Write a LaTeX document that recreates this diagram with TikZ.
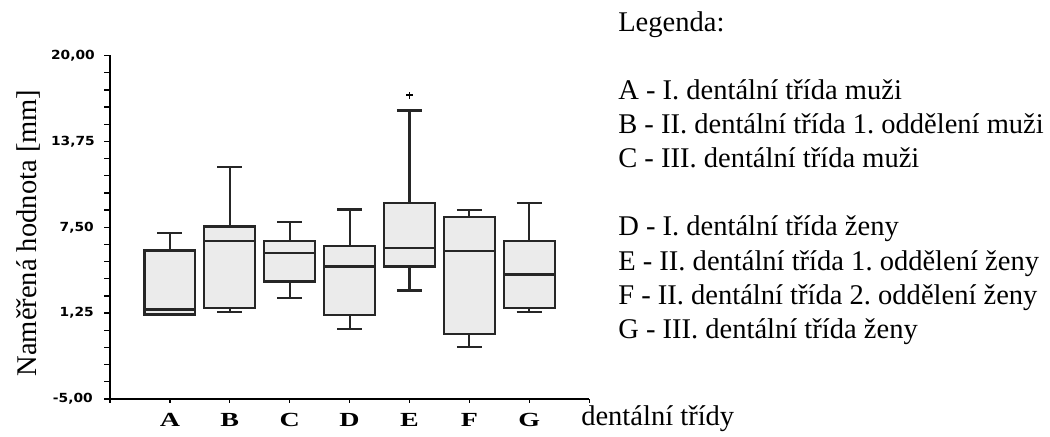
\documentclass[tikz,border=0pt]{standalone}
\usepackage{fontspec}
\usepackage{graphicx}
\setmainfont{Liberation Serif}
\newfontfamily\tickfont{DejaVu Sans}
\usepackage{tikz}
\frenchspacing

\tikzset{
  box/.style={draw=black!85, fill=black!8, line width=1.6pt},
  whisker/.style={draw=black!85, line width=1.6pt},
  axisline/.style={draw=black, line width=1.5pt},
  tickline/.style={draw=black, line width=1pt},
  ticklabel/.style={font=\tickfont\bfseries\fontsize{9.4}{10}\selectfont, anchor=east, inner sep=0pt},
  catlabel/.style={font=\bfseries\fontsize{15}{16}\selectfont, inner sep=0pt},
  legendtext/.style={font=\fontsize{21.4}{25}\selectfont, anchor=base west, inner sep=0pt},
}

\begin{document}
\begin{tikzpicture}[x=0.75pt, y=0.75pt]
\useasboundingbox (0,0) rectangle (1050,436);

% plot in data units
\begin{scope}[shift={(110,105.7)}, x=44.925pt, y=10.305pt]
\coordinate (origin) at (0,-5);
\coordinate (ytop) at (0,20);
\coordinate (xend) at (8,-5);
\draw [axisline] (ytop) -- (origin) -- (xend);
\foreach \v in {-5,-3.75,...,20}
  \draw [tickline] (0,\v) -- ++(-4.5pt,0);
\foreach \i in {0,...,8}
  \draw [tickline] (\i,-5) -- ++(0,-3pt);

\node [ticklabel] (ylab20) at ([xshift=-11.25pt]0,20) {\scalebox{1.1}[1]{20,00}};
\node [ticklabel] (ylab13) at ([xshift=-11.25pt]0,13.75) {\scalebox{1.1}[1]{13,75}};
\node [ticklabel] (ylab7) at ([xshift=-12pt]0,7.5) {\scalebox{1.1}[1]{7,50}};
\node [ticklabel] (ylab1) at ([xshift=-12pt]0,1.25) {\scalebox{1.1}[1]{1,25}};
\node [ticklabel] (ylab-5) at ([xshift=-12.75pt]0,-5) {\scalebox{1.1}[1]{-5,00}};

\foreach \c [count=\i] in {A,...,G}
  \node [catlabel] (cat\c) at ([yshift=-15.75pt]\i,-5) {\scalebox{1.4}[1]{\c}};

% position / lower whisker / q1 / median / q3 / upper whisker
\foreach \i/\lo/\qa/\md/\qb/\hi in {1/1.15/1.15/1.51/5.81/7.05, 2/1.32/1.61/6.49/7.55/11.87,
    3/2.34/3.55/5.64/6.49/7.87, 4/0.11/1.13/4.64/6.15/8.79, 5/2.9/4.64/6.0/9.25/16.0,
    6/-1.23/-0.25/5.76/8.23/8.77, 7/1.32/1.61/4.06/6.49/9.25} {
  \draw [whisker] (\i,\qb) -- (\i,\hi);
  \draw [whisker] (\i-0.21,\hi) -- (\i+0.21,\hi);
  \draw [whisker] (\i,\qa) -- (\i,\lo);
  \draw [whisker] (\i-0.21,\lo) -- (\i+0.21,\lo);
  \draw [box] (\i-0.425,\qa) rectangle (\i+0.425,\qb);
  \draw [whisker] (\i-0.425,\md) -- (\i+0.425,\md);
}
\coordinate (outE) at (5,17.1);
\draw [tickline, line width=1.4pt] ([xshift=-2.5pt]outE) -- ([xshift=2.5pt]outE);
\draw [tickline, line width=1.4pt] ([yshift=-2.5pt]outE) -- ([yshift=2.5pt]outE);
\end{scope}

\node [font=\fontsize{21.4}{25}\selectfont, rotate=90] (ytitle) at (28,203) {Naměřená hodnota [mm]};
\node [legendtext] (xtitle) at (581,11) {dentální třídy};

% legend
\node [legendtext] (legend) at (618,404) {Legenda:};
\node [legendtext] (legA) at (618,336) {A - I. dentální třída muži};
\node [legendtext] (legB) at (618,302) {B - II. dentální třída 1. oddělení muži};
\node [legendtext] (legC) at (618,268) {C - III. dentální třída muži};
\node [legendtext] (legD) at (618,200) {D - I. dentální třída ženy};
\node [legendtext] (legE) at (618,166) {E - II. dentální třída 1. oddělení ženy};
\node [legendtext] (legF) at (618,132) {F - II. dentální třída 2. oddělení ženy};
\node [legendtext] (legG) at (618,98) {G - III. dentální třída ženy};
\end{tikzpicture}
\end{document}
